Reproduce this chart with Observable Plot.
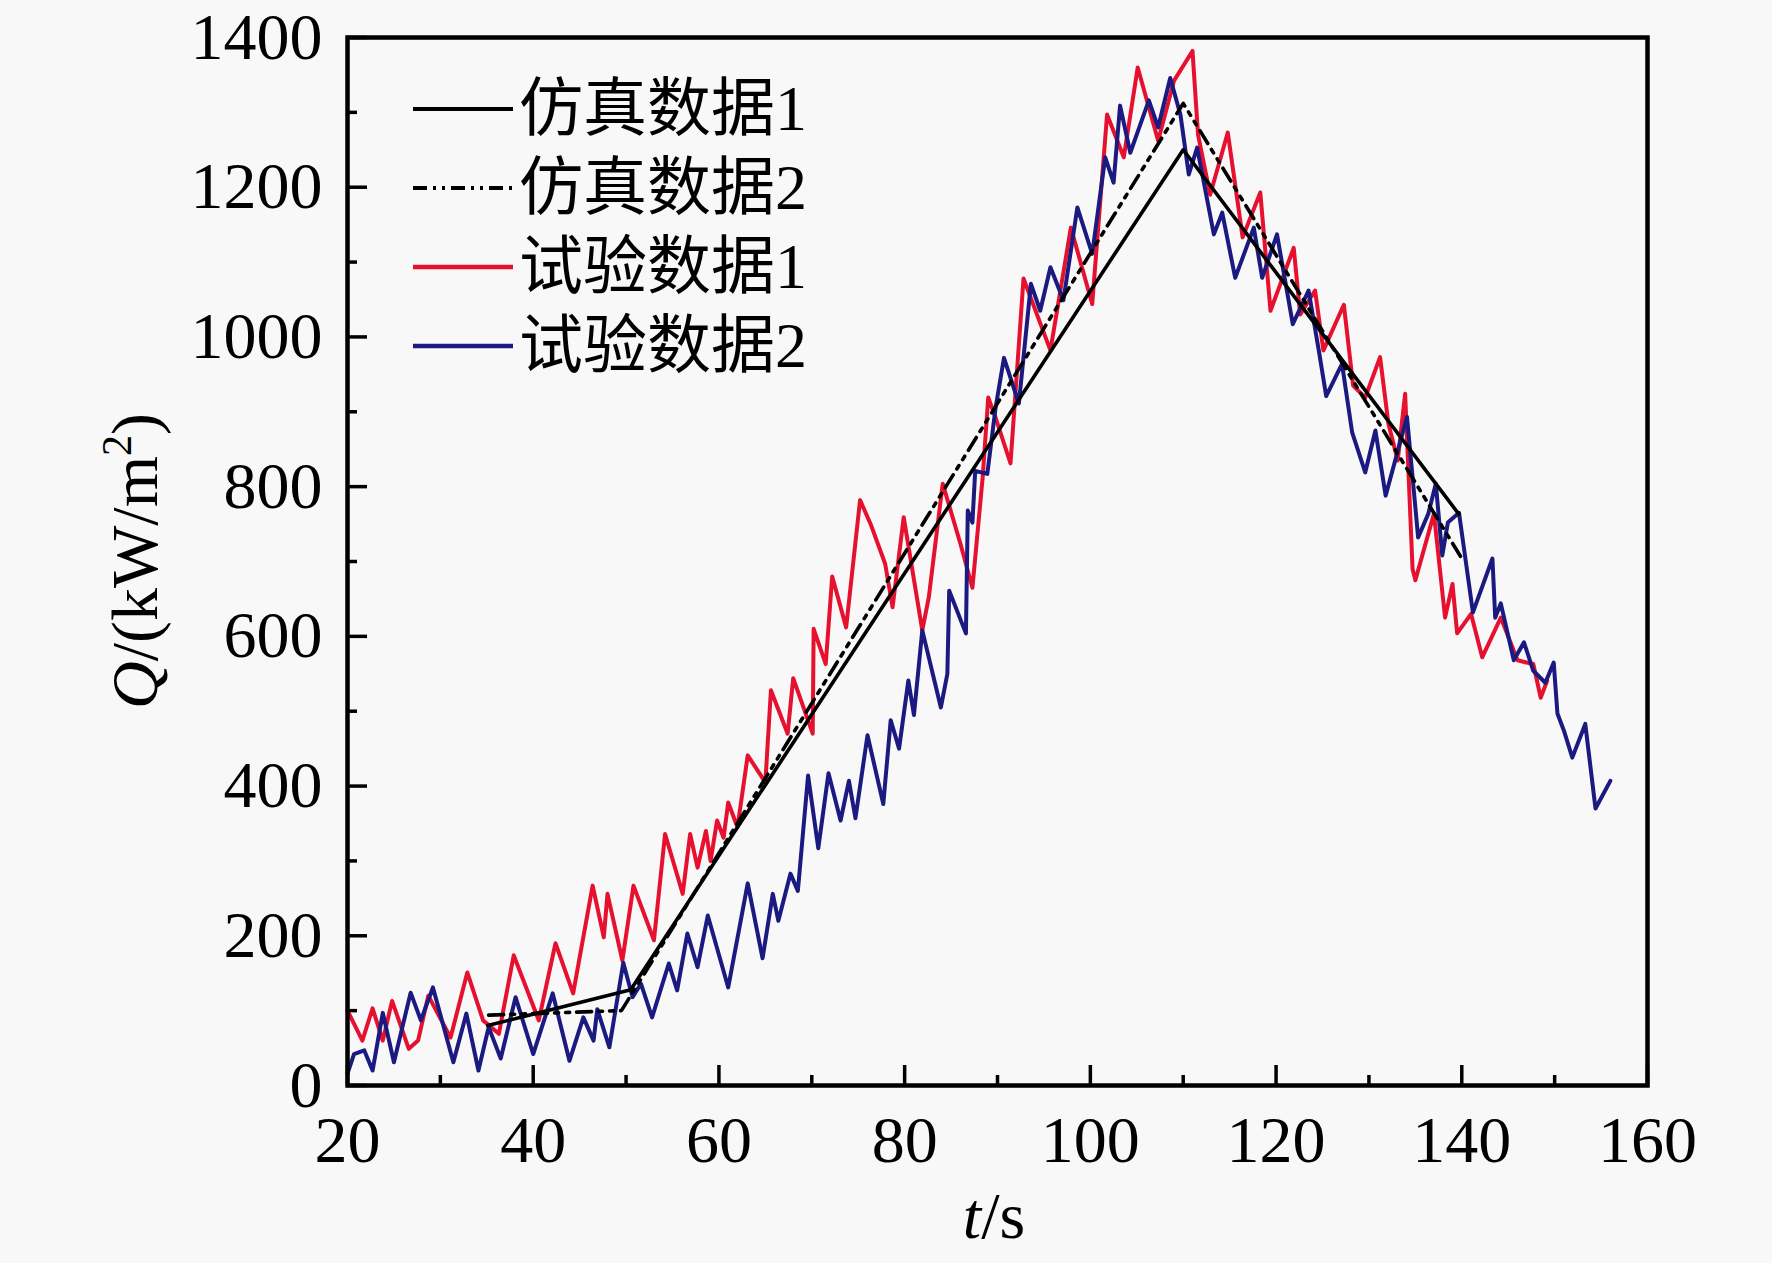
<!DOCTYPE html>
<html><head><meta charset="utf-8">
<script src="https://cdn.jsdelivr.net/npm/d3@7"></script>
<script src="https://cdn.jsdelivr.net/npm/@observablehq/plot@0.6"></script>
<style>
html,body{margin:0;padding:0;background:#f8f8f8;}
#wrap{position:relative;width:1772px;height:1263px;overflow:hidden;}
#legend{position:absolute;left:413px;top:69px;font-family:"Liberation Serif","Noto Sans CJK SC",serif;font-size:64px;color:#000;}
#legend .row{display:flex;align-items:center;height:79px;line-height:1;}
#legend svg{display:block;margin-right:6px;}
</style>
</head><body>
<div id="wrap"><div id="legend"></div></div>
<script>
// ---- data ----
const sim1T = [35.1, 50.5, 110.0, 139.7];
const sim1Q = [80, 128, 1250, 763];
const sim2T = [35.2, 49.5, 110.0, 140.2];
const sim2Q = [94, 100, 1312, 700];

const redT = [20.0,21.6,22.7,23.8,24.8,26.6,27.6,28.7,31.1,32.9,34.6,36.3,37.9,40.6,42.4,44.3,46.4,47.6,48.0,49.6,50.8,53.0,54.2,56.1,56.9,57.7,58.6,59.1,59.8,60.5,61.0,62.0,63.1,65.0,65.6,67.4,68.0,70.1,70.2,71.5,72.2,73.7,75.2,76.4,77.9,78.7,79.9,81.9,82.6,84.1,86.0,87.3,88.4,89.0,89.8,91.4,92.8,95.7,97.9,100.2,101.8,103.6,105.1,107.3,109.0,111.0,111.6,112.9,114.8,116.4,118.3,119.4,121.9,122.6,124.2,125.1,127.3,128.3,129.6,131.2,132.1,133.1,133.9,134.7,135.0,137.0,138.2,139.0,139.5,141.0,142.2,144.2,146.0,147.7,148.5,149.2];
const redQ = [100,60,103,60,113,49,60,120,64,151,87,69,174,87,190,123,267,198,256,167,267,194,336,256,336,291,340,300,354,331,378,345,441,405,528,470,544,470,610,563,680,612,782,748,697,639,759,608,652,804,724,665,812,919,892,831,1078,982,1146,1044,1297,1240,1360,1262,1342,1382,1270,1190,1273,1133,1193,1035,1119,1030,1062,982,1043,935,919,973,884,835,924,690,675,764,625,670,604,630,572,625,568,563,518,541];

const blueT = [20.0,20.7,21.8,22.7,23.8,25.0,26.8,27.9,29.2,31.4,32.8,34.1,35.2,36.5,38.1,40.0,42.1,43.9,45.4,46.5,46.9,48.2,49.7,50.7,51.6,52.8,54.6,55.5,56.6,57.7,58.8,61.0,63.1,64.7,65.8,66.4,67.7,68.5,69.6,70.7,71.8,73.1,74.0,74.7,76.0,77.7,78.5,79.4,80.4,81.0,81.9,83.9,84.6,84.8,86.6,86.8,87.3,87.6,88.9,89.8,90.7,92.3,93.6,94.6,95.7,97.1,98.6,100.2,101.6,102.5,103.2,104.3,106.3,107.3,108.6,109.7,110.6,111.5,113.3,114.2,115.6,117.6,118.5,120.1,121.8,123.5,124.6,125.4,127.1,128.2,129.6,130.7,131.8,133.2,134.1,135.3,136.4,137.2,137.9,138.5,139.7,141.2,143.3,143.6,144.2,145.6,146.7,147.7,149.0,149.9,150.3,151.0,151.9,153.3,154.4,156.0];
const blueQ = [16,42,47,20,97,31,124,87,131,31,96,20,78,36,118,42,123,33,91,60,102,51,164,118,136,91,163,127,203,158,227,131,270,170,256,220,283,260,414,317,417,354,407,357,468,376,488,450,541,495,608,505,550,661,604,768,752,821,817,906,972,911,1071,1035,1093,1049,1173,1111,1240,1206,1309,1246,1316,1280,1346,1297,1217,1253,1137,1166,1079,1146,1079,1137,1017,1062,982,921,964,872,819,875,788,852,893,732,764,804,708,752,765,632,704,625,644,568,592,554,538,565,497,474,438,483,370,407];

const xTicks = [20, 40, 60, 80, 100, 120, 140, 160];
const xMinor = [30, 50, 70, 90, 110, 130, 150];
const yTicks = [0, 200, 400, 600, 800, 1000, 1200, 1400];
const yMinor = [100, 300, 500, 700, 900, 1100, 1300];

const legendLabels = ["仿真数据1", "仿真数据2", "试验数据1", "试验数据2"];
const RED = "#e5112f";
const BLUE = "#1b1a80";
const legendColors = ["#000", "#000", RED, BLUE];
const legendDash = [null, "14,6,3,6,3,6", null, null];

const zip = (T, Q) => T.map((t, i) => ({t, q: Q[i]}));
const red = zip(redT, redQ), blue = zip(blueT, blueQ), sim1 = zip(sim1T, sim1Q), sim2 = zip(sim2T, sim2Q);

const fmt = d => String(d);
const chart = Plot.plot({
  width: 1772, height: 1263,
  marginLeft: 347, marginRight: 125, marginTop: 37, marginBottom: 178,
  style: {background: "#f8f8f8", fontFamily: "'Liberation Serif', serif", fontSize: "66px", color: "#000", overflow: "visible"},
  x: {domain: [20, 160]},
  y: {domain: [0, 1400]},
  marks: [
    Plot.line(red, {x: "t", y: "q", stroke: RED, strokeWidth: 4, strokeLinejoin: "round"}),
    Plot.line(blue, {x: "t", y: "q", stroke: BLUE, strokeWidth: 4, strokeLinejoin: "round"}),
    Plot.line(sim1, {x: "t", y: "q", stroke: "#000", strokeWidth: 3.6}),
    Plot.line(sim2, {x: "t", y: "q", stroke: "#000", strokeWidth: 3.6, strokeDasharray: "15,7,4,7,4,7"}),
    Plot.axisX(xMinor, {tickSize: -10, strokeWidth: 3.5, fill: "none", label: null}),
    Plot.axisX(xTicks, {tickSize: -20, strokeWidth: 3.5, fill: "none", label: null}),
    Plot.axisX(xTicks, {tickSize: 0, tickPadding: 30, tickFormat: fmt, label: null, fontSize: 66}),
    Plot.axisY(yMinor, {tickSize: -10, strokeWidth: 3.5, fill: "none", label: null}),
    Plot.axisY(yTicks, {tickSize: -20, strokeWidth: 3.5, fill: "none", label: null}),
    Plot.axisY(yTicks, {tickSize: 0, tickPadding: 25, tickFormat: fmt, label: null, fontSize: 66}),
    Plot.frame({stroke: "#000", strokeWidth: 4.5})
  ]
});

const svg = d3.select(chart);
// y axis title
const yt = svg.append("text")
  .attr("transform", "translate(157,561) rotate(-90)")
  .attr("text-anchor", "middle")
  .attr("font-family", "'Liberation Serif', serif")
  .attr("font-size", 66).attr("fill", "#000");
yt.append("tspan").attr("font-style", "italic").text("Q");
yt.append("tspan").text("/(kW/m");
yt.append("tspan").attr("font-size", 42).attr("dy", -26).text("2");
yt.append("tspan").attr("dy", 26).text(")");
// x axis title
const xt = svg.append("text")
  .attr("x", 994).attr("y", 1238)
  .attr("text-anchor", "middle")
  .attr("font-family", "'Liberation Serif', serif")
  .attr("font-size", 66).attr("fill", "#000");
xt.append("tspan").attr("font-style", "italic").text("t");
xt.append("tspan").text("/s");

document.getElementById("wrap").prepend(chart);

// legend
const lg = d3.select("#legend");
legendLabels.forEach((lab, i) => {
  const row = lg.append("div").attr("class", "row");
  const s = row.append("svg").attr("width", 100).attr("height", 10);
  s.append("line").attr("x1", 0).attr("x2", 100).attr("y1", 5).attr("y2", 5)
    .attr("stroke", legendColors[i]).attr("stroke-width", i < 2 ? 4 : 4.5)
    .attr("stroke-dasharray", legendDash[i]);
  row.append("span").text(lab);
});
</script>
</body></html>
